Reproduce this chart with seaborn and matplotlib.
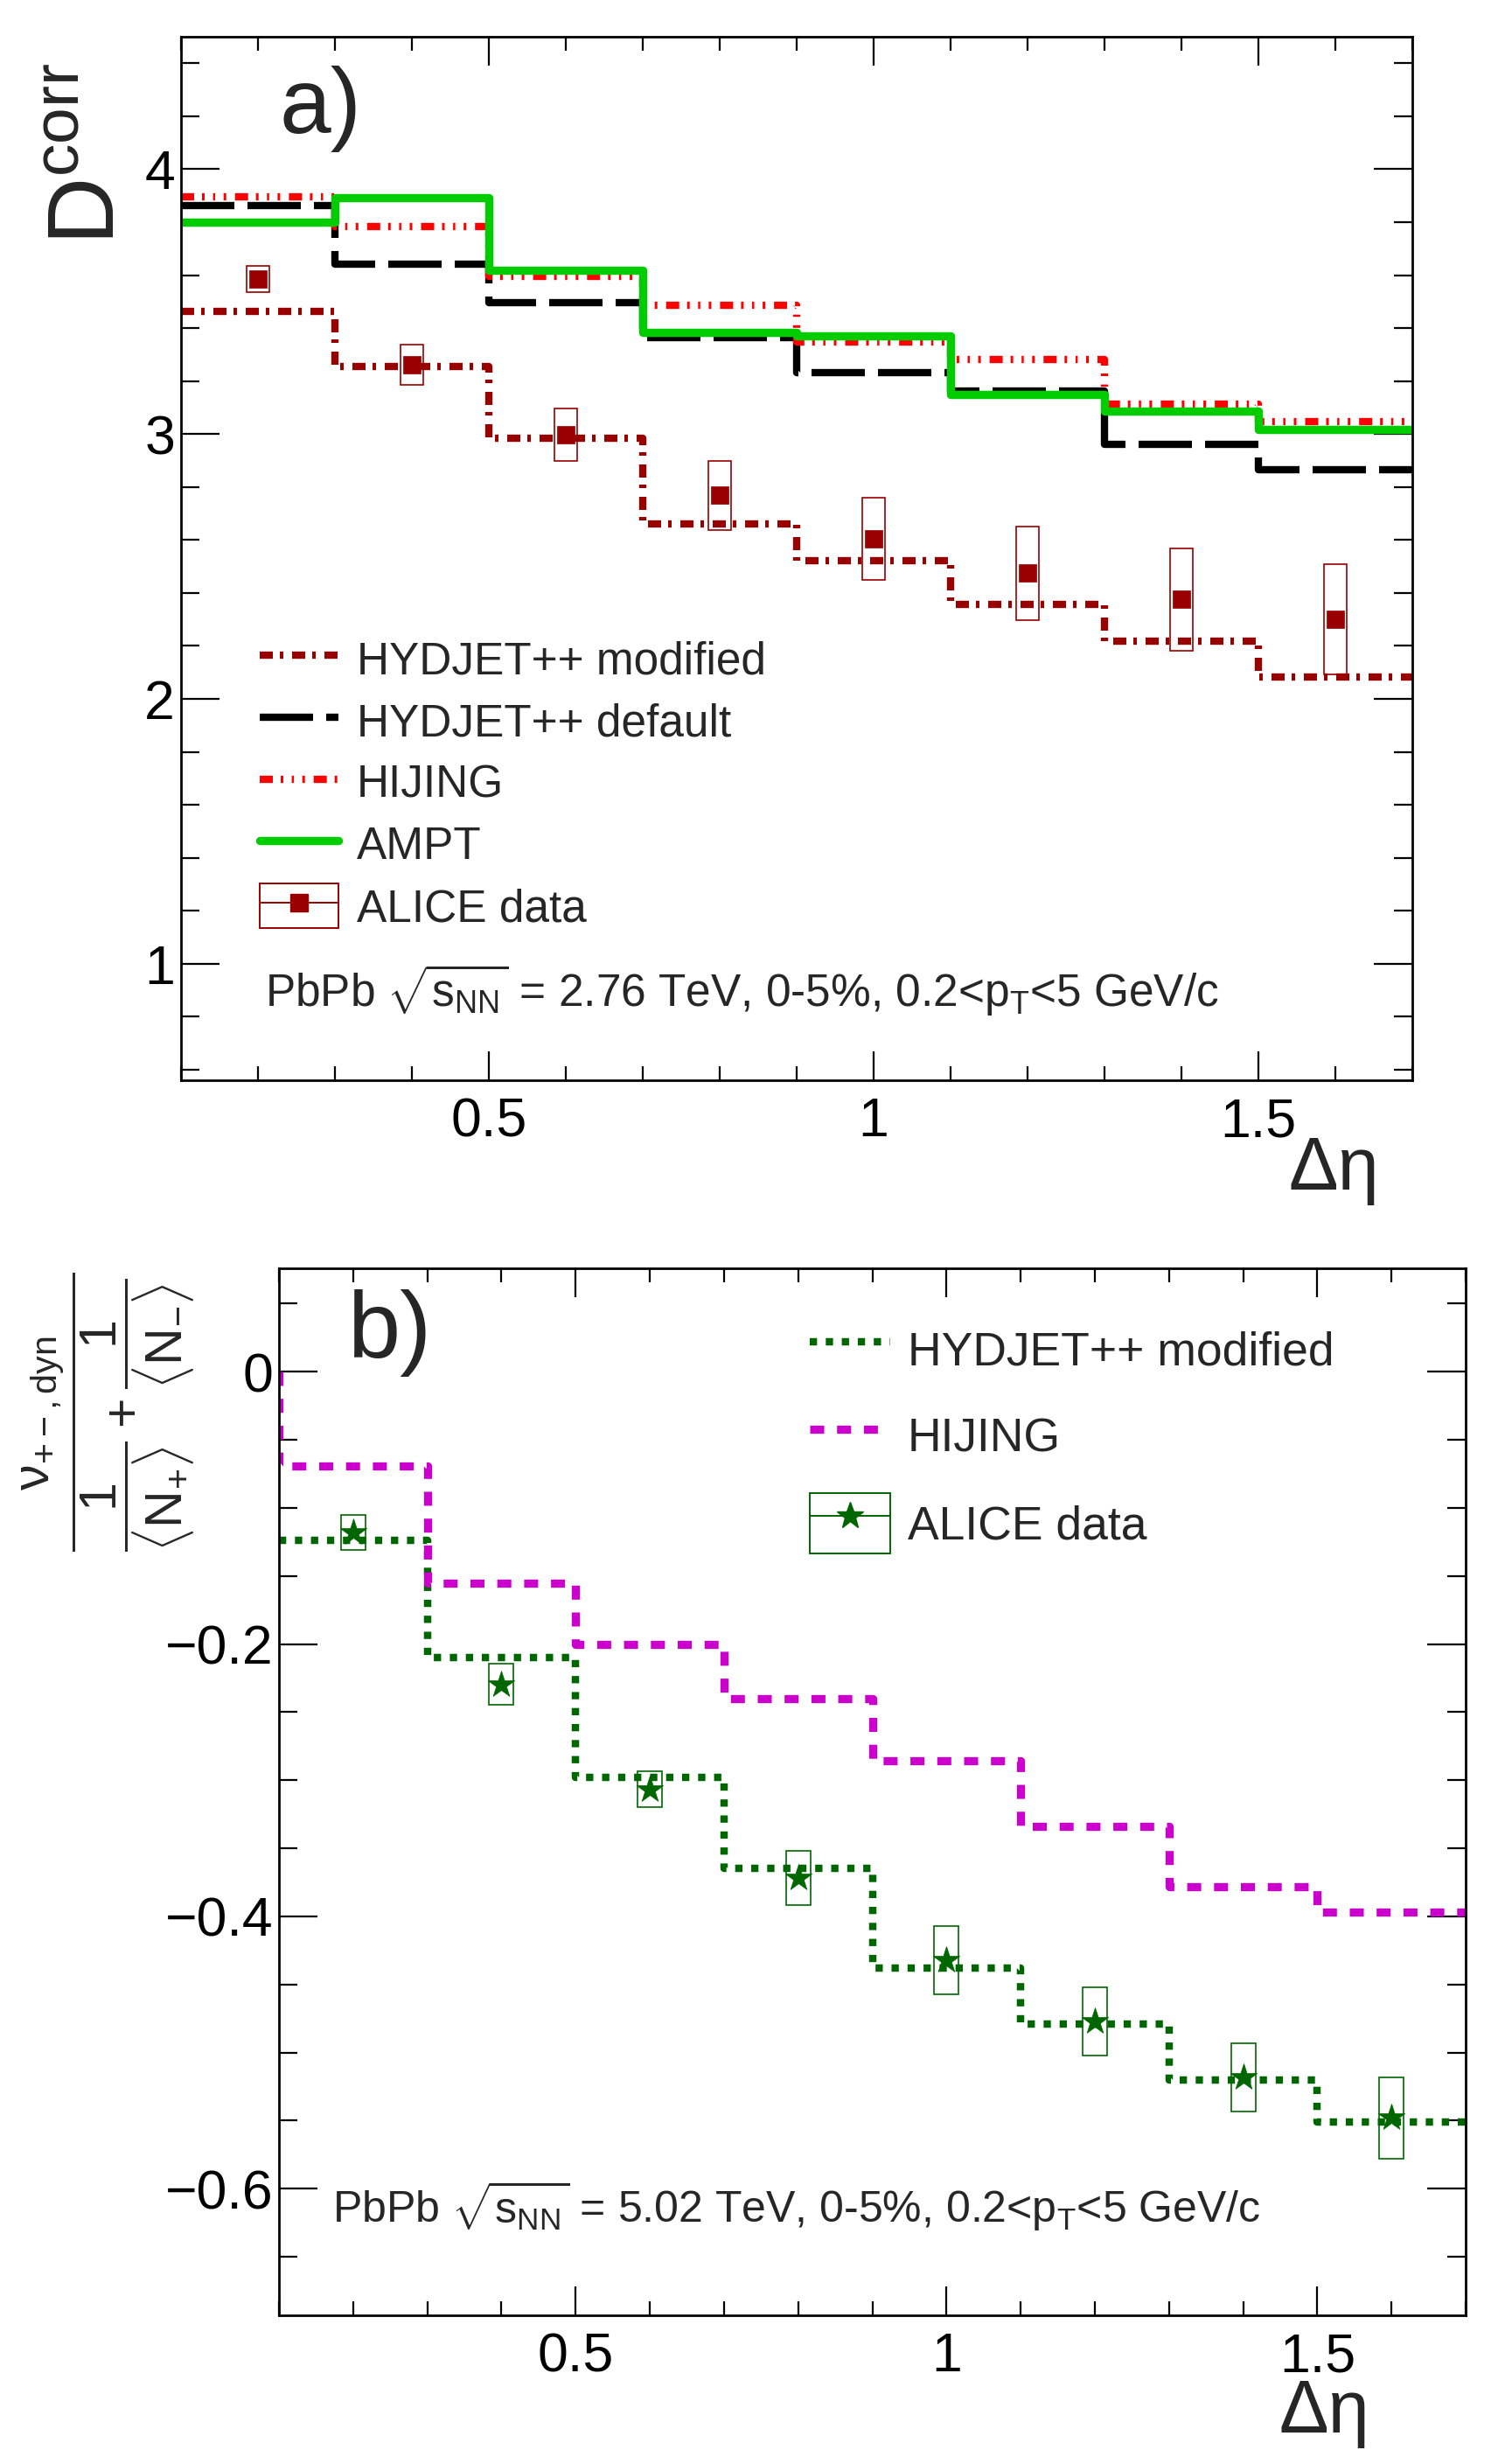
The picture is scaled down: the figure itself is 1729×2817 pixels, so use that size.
import numpy as np
import matplotlib
matplotlib.use("Agg")
import matplotlib.pyplot as plt
import seaborn as sns
import pandas as pd
from matplotlib.ticker import MultipleLocator, FuncFormatter
from matplotlib.lines import Line2D
from matplotlib.patches import Rectangle

# ---------------- data ----------------
bin_edges = [0.1, 0.3, 0.5, 0.7, 0.9, 1.1, 1.3, 1.5, 1.7]
deta_points = [0.2, 0.4, 0.6, 0.8, 1.0, 1.2, 1.4, 1.6]

a_hydjet_mod = [3.463, 3.254, 2.985, 2.659, 2.522, 2.357, 2.218, 2.081]
a_hydjet_def = [3.861, 3.642, 3.496, 3.363, 3.233, 3.164, 2.962, 2.864]
a_hijing = [3.897, 3.783, 3.594, 3.485, 3.348, 3.282, 3.112, 3.047]
a_ampt = [3.799, 3.891, 3.619, 3.385, 3.370, 3.149, 3.086, 3.016]
a_alice = [3.586, 3.261, 2.997, 2.768, 2.603, 2.474, 2.375, 2.301]
a_alice_sys = [0.050, 0.075, 0.100, 0.130, 0.155, 0.177, 0.193, 0.208]

b_hydjet_mod = [-0.124, -0.210, -0.298, -0.365, -0.438, -0.479, -0.520, -0.551]
b_hijing_start = 0.0
b_hijing = [-0.069, -0.155, -0.200, -0.240, -0.286, -0.334, -0.378, -0.397]
b_alice = [-0.118, -0.2295, -0.3066, -0.372, -0.432, -0.477, -0.518, -0.548]
b_alice_sys = [0.013, 0.015, 0.013, 0.020, 0.025, 0.025, 0.025, 0.030]

labels_a = ["HYDJET++ modified", "HYDJET++ default", "HIJING", "AMPT", "ALICE data"]
labels_b = ["HYDJET++ modified", "HIJING", "ALICE data"]

# ---------------- style ----------------
W, H = 1729, 2817
DPI = 100
sns.set_theme(style="ticks")
plt.rcParams["font.family"] = ["Liberation Sans", "DejaVu Sans"]
plt.rcParams["mathtext.fontset"] = "custom"
plt.rcParams["mathtext.rm"] = "Liberation Sans"
plt.rcParams["mathtext.it"] = "Liberation Sans:italic"
plt.rcParams["mathtext.bf"] = "Liberation Sans:bold"
plt.rcParams["lines.scale_dashes"] = False
plt.rcParams["axes.unicode_minus"] = True

PX = 72.0 / DPI  # points per pixel

DKRED = "#990000"
RED = "#ff0000"
GREEN = "#00cc00"
DKGREEN = "#006600"
MAGENTA = "#cc00cc"

DASH_HMOD = [15 * PX, 8 * PX, 4 * PX, 10 * PX]
DASH_HDEF = [61 * PX, 15 * PX]
DASH_HIJ = [15 * PX, 9 * PX, 3 * PX, 9.6 * PX, 2.5 * PX, 9.6 * PX, 3 * PX, 10 * PX]
DASH_DOT = [8.3 * PX, 10 * PX]
DASH_MAG = [16 * PX, 14.7 * PX]

fig = plt.figure(figsize=(W / DPI, H / DPI), dpi=DPI)


def fx(px):
    return px / W


def fy(py):
    return 1 - py / H


ax_a = fig.add_axes([fx(207), fy(1235), (1615 - 207) / W, (1235 - 42) / H])
ax_b = fig.add_axes([fx(319), fy(2647), (1676 - 319) / W, (2647 - 1450) / H])


def step_line(ax, edges, vals, color, lw, dashes, start=None):
    xs = list(edges)
    ys = list(vals) + [vals[-1]]
    if start is not None:
        xs = [edges[0]] + xs
        ys = [start] + ys
    df = pd.DataFrame({"x": xs, "y": ys})
    n0 = len(ax.lines)
    sns.lineplot(data=df, x="x", y="y", ax=ax, estimator=None, sort=False,
                 drawstyle="steps-post", color=color, linewidth=lw)
    ln = ax.lines[n0]
    if dashes is not None:
        ln.set_dashes(dashes)
    ln.set_dash_capstyle("butt")
    ln.set_solid_capstyle("butt")
    return ln


def data_boxes(ax, x, y, err, width, color, marker, ms):
    y = np.asarray(y)
    err = np.asarray(err)
    ax.bar(x, 2 * err, bottom=y - err, width=width, fill=False,
           edgecolor=color, linewidth=1.2, zorder=5)
    df = pd.DataFrame({"x": x, "y": y})
    sns.scatterplot(data=df, x="x", y="y", ax=ax, marker=marker, s=ms ** 2,
                    color=color, edgecolor=color, linewidth=0.5, zorder=6)


def style_axes(ax, ymajor, yminor, ylim):
    ax.set_xlim(0.1, 1.7)
    ax.set_ylim(*ylim)
    ax.xaxis.set_major_locator(MultipleLocator(0.5))
    ax.xaxis.set_minor_locator(MultipleLocator(0.1))
    ax.yaxis.set_major_locator(MultipleLocator(ymajor))
    ax.yaxis.set_minor_locator(MultipleLocator(yminor))
    fmt = FuncFormatter(lambda v, p: ("%g" % round(v, 6)).replace("-", "\u2212"))
    ax.xaxis.set_major_formatter(fmt)
    ax.yaxis.set_major_formatter(fmt)
    ax.tick_params(which="both", direction="in", top=True, right=True,
                   colors="black", width=1.6)
    ax.tick_params(axis="y", which="major", length=44 * PX, pad=7 * PX, labelsize=45)
    ax.tick_params(axis="y", which="minor", length=21 * PX)
    ax.tick_params(axis="x", which="major", length=33 * PX, pad=18 * PX, labelsize=45)
    ax.tick_params(axis="x", which="minor", length=16 * PX)
    for s in ax.spines.values():
        s.set_linewidth(2.0)
        s.set_color("black")
        s.set_visible(True)
    ax.set_xlabel("")
    ax.set_ylabel("")
    ax.grid(False)
    ax.set_facecolor("white")


# ---------------- panel a ----------------
l1 = step_line(ax_a, bin_edges, a_hydjet_mod, DKRED, 6.0, DASH_HMOD)
l2 = step_line(ax_a, bin_edges, a_hydjet_def, "black", 6.0, DASH_HDEF)
l3 = step_line(ax_a, bin_edges, a_hijing, RED, 6.0, DASH_HIJ)
l4 = step_line(ax_a, bin_edges, a_ampt, GREEN, 6.8, None)
data_boxes(ax_a, deta_points, a_alice, a_alice_sys, 0.029, DKRED, "s", 14)
style_axes(ax_a, 1, 0.2, (0.56, 4.5))

hmod = Line2D([], [], color=DKRED, lw=6.0, dashes=DASH_HMOD)
hdef = Line2D([], [], color="black", lw=6.0, dashes=DASH_HDEF)
hhij = Line2D([], [], color=RED, lw=6.0, dashes=DASH_HIJ)
hampt = Line2D([], [], color=GREEN, lw=6.8)
hdat_a = (Rectangle((0, 0), 1, 1, fill=False, edgecolor=DKRED, lw=1.4),
          Line2D([], [], color=DKRED, lw=1.4, marker="s", ms=14, mec=DKRED))
leg_a = ax_a.legend([hmod, hdef, hhij, hampt, hdat_a], labels_a,
                    loc="upper left", bbox_to_anchor=(fx(297), fy(728)),
                    bbox_transform=fig.transFigure, frameon=False,
                    fontsize=37, handlelength=1.75, handleheight=1.146,
                    handletextpad=0.41, labelspacing=0.325, borderpad=0,
                    borderaxespad=0)

fig.text(fx(320), fy(152), "a)", fontsize=76, ha="left", va="baseline")
fig.text(fx(153), fy(72), r"$\mathrm{D}^{\mathrm{corr}}$", fontsize=77,
         rotation=90, ha="right", va="top")
fig.text(fx(1577), fy(1360), "\u0394\u03b7", fontsize=61, ha="right", va="baseline")
fig.text(fx(303), fy(1151),
         r"PbPb $\sqrt{\mathrm{s}_{\mathrm{NN}}}$ = 2.76 TeV, 0-5%, 0.2<p$_{\mathrm{T}}$<5 GeV/c",
         fontsize=37, ha="left", va="baseline")

# ---------------- panel b ----------------
m1 = step_line(ax_b, bin_edges, b_hydjet_mod, DKGREEN, 6.1, DASH_DOT)
m2 = step_line(ax_b, bin_edges, b_hijing, MAGENTA, 6.7, DASH_MAG, start=b_hijing_start)
data_boxes(ax_b, deta_points, b_alice, b_alice_sys, 0.033, DKGREEN, "*", 23)
style_axes(ax_b, 0.2, 0.05, (-0.693, 0.076))

gmod = Line2D([], [], color=DKGREEN, lw=6.1, dashes=DASH_DOT)
gmag = Line2D([], [], color=MAGENTA, lw=6.7, dashes=DASH_MAG)
hdat_b = (Rectangle((0, 0), 1, 1, fill=False, edgecolor=DKGREEN, lw=1.4),
          Line2D([], [], color=DKGREEN, lw=1.4, marker="*", ms=23, mec=DKGREEN))
leg_b = ax_b.legend([gmod, gmag, hdat_b], labels_b,
                    loc="upper left", bbox_to_anchor=(fx(926), fy(1508)),
                    bbox_transform=fig.transFigure, frameon=False,
                    fontsize=38.5, handlelength=1.72, handleheight=1.623,
                    handletextpad=0.37, labelspacing=0.56, borderpad=0,
                    borderaxespad=0)

fig.text(fx(397), fy(1552), "b)", fontsize=78, ha="left", va="baseline")
fig.text(fx(124), fy(1614),
         r"$\dfrac{\mathrm{\nu}_{+-,\mathrm{dyn}}}{\dfrac{1}{\langle \mathrm{N}_{+}\rangle}+\dfrac{1}{\langle \mathrm{N}_{-}\rangle}}$",
         fontsize=42.5, rotation=90, ha="center", va="center")
fig.text(fx(1566), fy(2781), "\u0394\u03b7", fontsize=61, ha="right", va="baseline")
fig.text(fx(380), fy(2541),
         r"PbPb $\sqrt{\mathrm{s}_{\mathrm{NN}}}$ = 5.02 TeV, 0-5%, 0.2<p$_{\mathrm{T}}$<5 GeV/c",
         fontsize=36, ha="left", va="baseline")

fig.savefig("out.png", dpi=DPI, facecolor="white")
